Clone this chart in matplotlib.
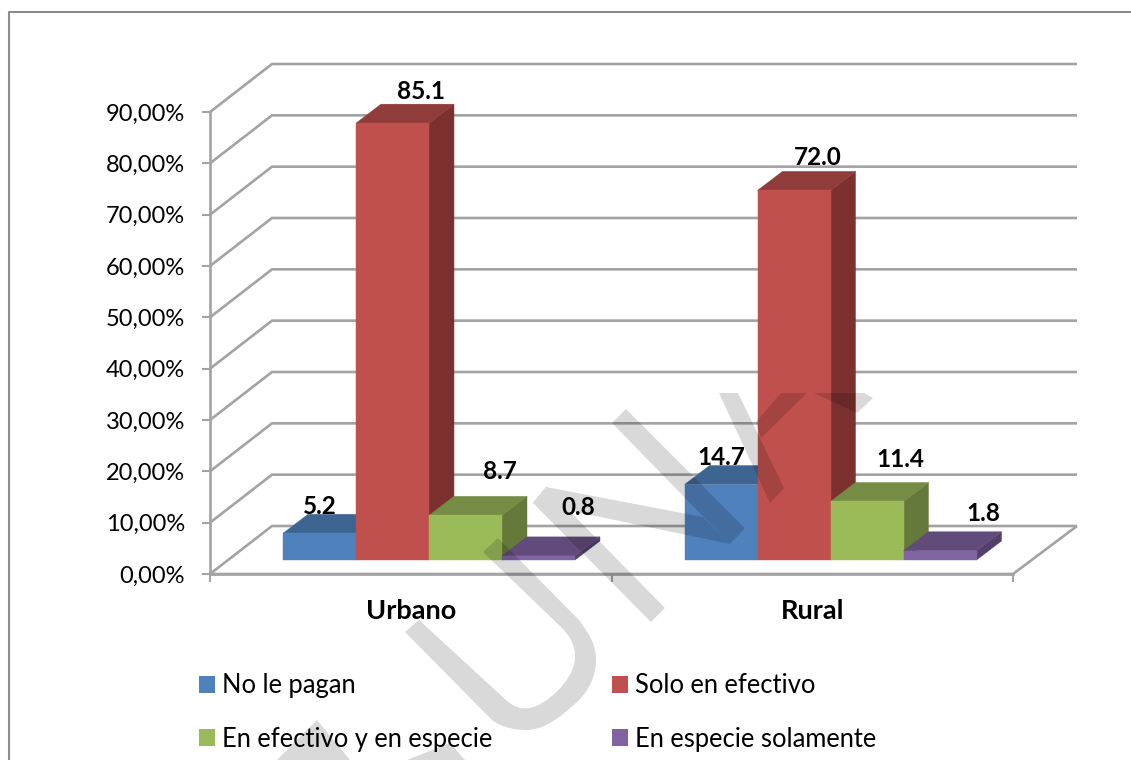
import matplotlib
matplotlib.use("Agg")
import matplotlib.pyplot as plt
from matplotlib.patches import Polygon, PathPatch, Patch
from matplotlib.path import Path
from matplotlib.lines import Line2D
from matplotlib.ticker import FuncFormatter

categories = ["Urbano", "Rural"]
series_names = ["No le pagan", "Solo en efectivo", "En efectivo y en especie", "En especie solamente"]
no_le_pagan = [5.2, 14.7]
solo_efectivo = [85.1, 72.0]
efectivo_especie = [8.7, 11.4]
especie_solamente = [0.8, 1.8]
y_ticks = [0, 10, 20, 30, 40, 50, 60, 70, 80, 90]

W, H = 1131, 760
plt.rcParams["font.family"] = ["Lato", "DejaVu Sans"]
GRID = "#a3a3a3"
front = ["#4f81bd", "#c0504d", "#9bbb59", "#8064a2"]
top = ["#3d6591", "#8f3c3a", "#748c43", "#604b7a"]
side = ["#34567c", "#7c302f", "#64793a", "#533f6a"]
# label offsets from each bar's front-top centre, in pixels
label_off = [[(0, 27), (28, 32), (34, 44), (40, 48)],
             [(0, 27), (24, 33), (33, 42), (43, 37)]]

fig = plt.figure(figsize=(W / 100, H / 100), dpi=100)
L, R, T, B = 210, 1013, 112, 574
ax = fig.add_axes([L / W, 1 - B / H, (R - L) / W, (B - T) / H])
ax.set_xlim(0, 2)
ax.set_ylim(0, 90)
ax.patch.set_visible(False)
px, py = 2 / (R - L), 90 / (B - T)

# walls and floor
for v in y_ticks:
    ax.plot([0, 62 * px, 2 + 64 * px], [v, v + 48 * py, v + 48 * py], color=GRID, lw=1.9,
            clip_on=False, zorder=1, solid_joinstyle="miter", solid_capstyle="butt")
ax.plot([0, 2, 2 + 64 * px], [0, 0, 48 * py], color=GRID, lw=1.9, clip_on=False, zorder=1,
        solid_joinstyle="miter", solid_capstyle="butt")

# bars with oblique depth
values = [no_le_pagan, solo_efectivo, efectivo_especie, especie_solamente]
w = 1 / 5.5
base = 14 * py
dx, dy = 25 * px, 19 * py
z = 3
for c in range(len(categories)):
    for s, vals in enumerate(values):
        x0 = c + w + s * w
        x1 = x0 + w
        y0 = base
        y1 = base + vals[c]
        for pts, col in [([(x1, y0), (x1 + dx, y0 + dy), (x1 + dx, y1 + dy), (x1, y1)], side[s]),
                         ([(x0, y1), (x0 + dx, y1 + dy), (x1 + dx, y1 + dy), (x1, y1)], top[s]),
                         ([(x0, y0), (x1, y0), (x1, y1), (x0, y1)], front[s])]:
            ax.add_patch(Polygon(pts, closed=True, facecolor=col, edgecolor=col, lw=0.3,
                                 clip_on=False, zorder=z))
            z += 0.01
        ox, oy = label_off[c][s]
        ax.annotate(f"{vals[c]:.1f}", ((x0 + x1) / 2, y1), xytext=(ox * 0.72, oy * 0.72),
                    textcoords="offset points", ha="center", va="center", fontsize=17.5,
                    fontweight="bold", color="black", zorder=20)

# axes
for sp in ("top", "right"):
    ax.spines[sp].set_visible(False)
for sp in ("left", "bottom"):
    ax.spines[sp].set_color(GRID)
    ax.spines[sp].set_linewidth(1.9)
    ax.spines[sp].set_zorder(2)
ax.set_yticks(y_ticks)
ax.yaxis.set_major_formatter(FuncFormatter(lambda v, _: f"{v:.2f}%".replace(".", ",")))
ax.tick_params(axis="y", length=5.5, width=1.5, color=GRID, pad=12.5, labelsize=17)
ax.set_xticks([0, 1, 2])
ax.set_xticklabels([])
ax.set_xticks([0.5, 1.5], minor=True)
ax.set_xticklabels(categories, minor=True, fontsize=19.5, fontweight="bold")
ax.tick_params(axis="x", which="major", length=6, width=1.5, color=GRID)
ax.tick_params(axis="x", which="minor", length=0, pad=18)

# legend
fs = 18.4
hs = 16 * 0.72 / fs
handles = [Patch(facecolor=front[i], edgecolor="none") for i in (0, 2, 1, 3)]
labels = [series_names[i] for i in (0, 2, 1, 3)]
leg = fig.legend(handles, labels, ncol=2, loc="center left",
                 bbox_to_anchor=(199 / W, 1 - 712.5 / H), bbox_transform=fig.transFigure,
                 frameon=False, borderpad=0, borderaxespad=0,
                 handlelength=hs, handleheight=hs, handletextpad=0.27,
                 labelspacing=1.11, columnspacing=4.68, prop={"size": fs})
leg.set_zorder(20)

# chart frame
fig.add_artist(Line2D([9 / W, 9 / W, 1], [0, 1 - 12 / H, 1 - 12 / H], color="#8c8c8c", lw=1.5,
                      transform=fig.transFigure, zorder=0))

# watermark (decoration)
M, Ln, C = Path.MOVETO, Path.LINETO, Path.CURVE4
wm = [
    [(M, (498, 538)), (Ln, (579, 620)),
     (C, (590, 635)), (C, (596, 645)), (C, (596, 660)),
     (C, (596, 680)), (C, (585, 697)), (C, (570, 708)),
     (C, (555, 722)), (C, (540, 730)), (C, (527, 730)),
     (C, (515, 730)), (C, (503, 728)), (C, (492, 720)),
     (Ln, (405, 632)), (Ln, (419, 620)), (Ln, (506, 700)),
     (C, (515, 708)), (C, (522, 709)), (C, (529, 708)),
     (C, (545, 706)), (C, (575, 680)), (C, (575, 657)),
     (C, (575, 645)), (C, (570, 636)), (C, (561, 627)),
     (Ln, (483, 552))],
    [(M, (533, 503)), (Ln, (651, 622)), (Ln, (665, 608)), (Ln, (546, 487))],
    [(M, (533, 503)), (Ln, (730, 544)), (Ln, (703, 517)), (Ln, (546, 487))],
    [(M, (612, 423)), (Ln, (730, 544)), (Ln, (745, 528)), (Ln, (626, 409))],
    [(M, (719, 393)), (Ln, (770, 503)), (Ln, (784, 488)), (Ln, (738, 393))],
    [(M, (756, 422)), (Ln, (761, 438)), (Ln, (807, 393)), (Ln, (781, 393))],
    [(M, (814, 393)), (Ln, (857, 413)), (Ln, (873, 398)), (Ln, (864, 393))],
    [(M, (277, 760)), (Ln, (350, 760)), (Ln, (317, 720))],
    [(M, (407, 760)), (Ln, (465, 760)), (Ln, (450, 743))],
]
verts, codes = [], []
for poly in wm:
    for code, (a, b) in poly:
        verts.append((a / W, 1 - b / H))
        codes.append(code)
    verts.append((0, 0))
    codes.append(Path.CLOSEPOLY)
fig.add_artist(PathPatch(Path(verts, codes), facecolor="black", alpha=0.15, edgecolor="none",
                         transform=fig.transFigure, zorder=10))

fig.savefig("out.png", dpi=100)
